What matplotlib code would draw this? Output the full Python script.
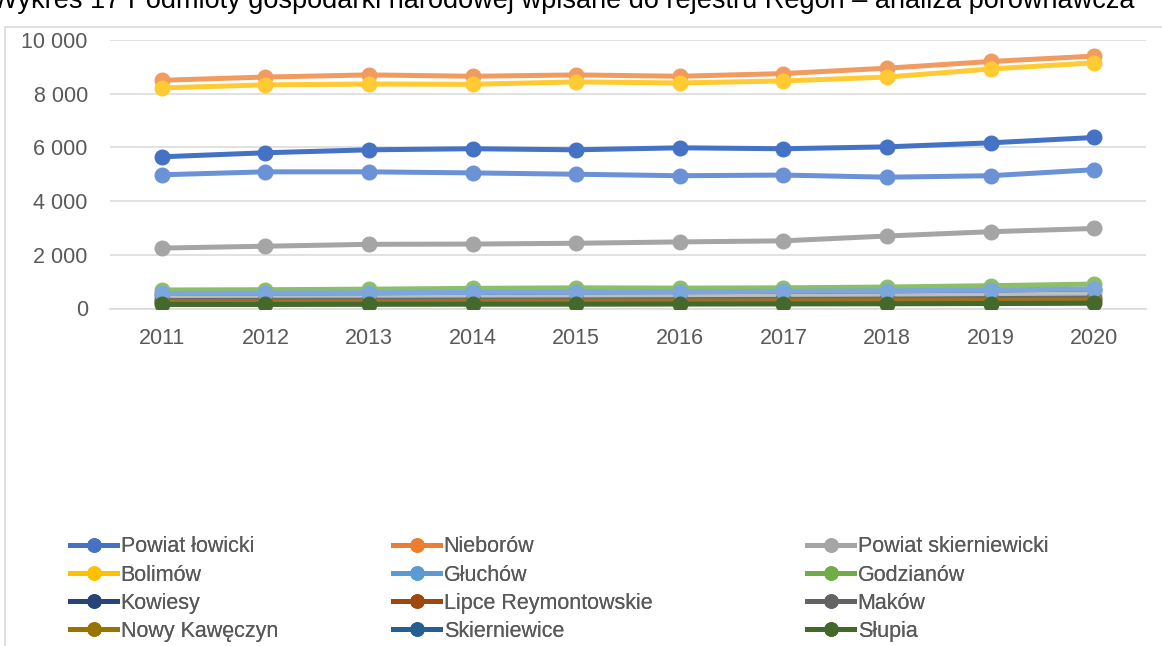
"""
plot.py — Podmioty gospodarki narodowej (REGON), analiza porównawcza
====================================================================

Line chart of registered entities per unit, 2011-2020, redrawn in the
Excel look of the source report (grey grid, thick lines with dots,
three-column legend below the plot).
"""

import matplotlib
matplotlib.use("Agg")
import matplotlib.pyplot as plt
from matplotlib.lines import Line2D
from matplotlib.patches import Rectangle
from matplotlib.ticker import FuncFormatter

# ---------------------------------------------------------------- data
years = [2011, 2012, 2013, 2014, 2015, 2016, 2017, 2018, 2019, 2020]

names = [
    "Powiat łowicki", "Nieborów", "Powiat skierniewicki",
    "Bolimów", "Głuchów", "Godzianów",
    "Kowiesy", "Lipce Reymontowskie", "Maków",
    "Nowy Kawęczyn", "Skierniewice", "Słupia",
]

powiat_lowicki = [5650, 5800, 5910, 5950, 5910, 5985, 5950, 6020, 6170, 6370]
nieborow = [8500, 8620, 8700, 8650, 8700, 8650, 8750, 8950, 9200, 9400]
powiat_skierniewicki = [2250, 2320, 2390, 2400, 2430, 2480, 2520, 2700, 2860, 2980]
bolimow = [8215, 8330, 8360, 8350, 8440, 8400, 8475, 8620, 8920, 9150]
gluchow = [4980, 5090, 5090, 5050, 5000, 4945, 4970, 4890, 4945, 5170]
godzianow = [690, 700, 720, 750, 770, 760, 770, 800, 850, 910]
kowiesy = [520, 530, 545, 560, 580, 590, 600, 620, 650, 700]
lipce = [380, 390, 400, 415, 430, 440, 450, 470, 500, 540]
makow = [300, 305, 310, 315, 320, 330, 340, 350, 370, 390]
nowy_kaweczyn = [250, 255, 260, 265, 270, 275, 285, 295, 305, 315]
skierniewice = [560, 570, 585, 600, 615, 625, 640, 660, 690, 730]
slupia = [150, 150, 155, 160, 160, 165, 170, 175, 185, 195]

series = [
    powiat_lowicki, nieborow, powiat_skierniewicki,
    bolimow, gluchow, godzianow,
    kowiesy, lipce, makow,
    nowy_kaweczyn, skierniewice, slupia,
]

# colours as the lines appear in the plot area
line_colors = [
    "#4472C4", "#F19B5F", "#A5A5A5",
    "#FFCA32", "#6B92D6", "#8BC068",
    "#3F6DB3", "#BDBDBD", "#6A6A6A",
    "#9A7420", "#7CA7DC", "#45692C",
]
# colours as shown in the legend
legend_colors = [
    "#4472C4", "#ED7D31", "#A5A5A5",
    "#FFC000", "#5B9BD5", "#70AD47",
    "#264478", "#9E480E", "#636363",
    "#997300", "#255E91", "#43682B",
]

title = ("Wykres 17 Podmioty gospodarki narodowej wpisane do rejestru Regon"
         " – analiza porównawcza")

# ---------------------------------------------------------------- style
FONT = ["Liberation Sans", "DejaVu Sans"]
plt.rcParams["font.family"] = FONT
TEXT_COLOR = "#595959"
GRID_COLOR = "#D9D9D9"

W, H = 1162, 646
fig = plt.figure(figsize=(W / 100, H / 100), dpi=100)

# chart frame (only its left and top edges are inside the picture)
fig.patches.append(Rectangle((5 / W, -0.05), 1.2, 1 - 27 / H + 0.05,
                             transform=fig.transFigure, fill=False,
                             edgecolor=GRID_COLOR, linewidth=1.2))

# caption above the frame, cropped by the picture edge as in the source
fig.text(1135 / W, 1 - 7.5 / H, title, ha="right", va="baseline",
         fontsize=19.5, color="#000000")

ax = fig.add_axes([110 / W, 1 - 308.5 / H, (1146 - 110) / W, (308.5 - 40) / H])

for i, (vals, color) in enumerate(zip(series, line_colors)):
    ax.plot(years, vals, color=color, linewidth=3.6, marker="o",
            markersize=10.5, solid_capstyle="round", zorder=3 + i)

ax.set_xlim(years[0] - 0.5, years[-1] + 0.5)
ax.set_ylim(0, 10000)
ax.set_yticks(range(0, 10001, 2000))
ax.set_xticks(years)
ax.yaxis.set_major_formatter(FuncFormatter(lambda v, _: f"{int(v):,}".replace(",", " ")))

ax.grid(axis="y", color=GRID_COLOR, linewidth=1.1)
ax.set_axisbelow(True)
for side in ("left", "right", "top"):
    ax.spines[side].set_visible(False)
ax.spines["bottom"].set_color(GRID_COLOR)
ax.spines["bottom"].set_linewidth(1.1)
ax.tick_params(length=0, labelsize=15.5, labelcolor=TEXT_COLOR)
ax.tick_params(axis="y", pad=16)
ax.tick_params(axis="x", pad=14)

# legend: 3 columns filled row-wise, like Excel
col_x = [70, 393, 807]
for c in range(3):
    handles = [
        Line2D([], [], color=legend_colors[k], linewidth=3.6, marker="o",
               markersize=9.5)
        for k in range(c, len(names), 3)
    ]
    labels = names[c::3]
    leg = fig.legend(handles, labels, loc="upper left",
                     bbox_to_anchor=(col_x[c] / W, 1 - 536.5 / H),
                     frameon=False, fontsize=15.5, handlelength=2.2,
                     handletextpad=0.15, labelspacing=0.33,
                     borderaxespad=0, borderpad=0, labelcolor=TEXT_COLOR)
    fig.add_artist(leg)

fig.savefig("out.png", dpi=100)
